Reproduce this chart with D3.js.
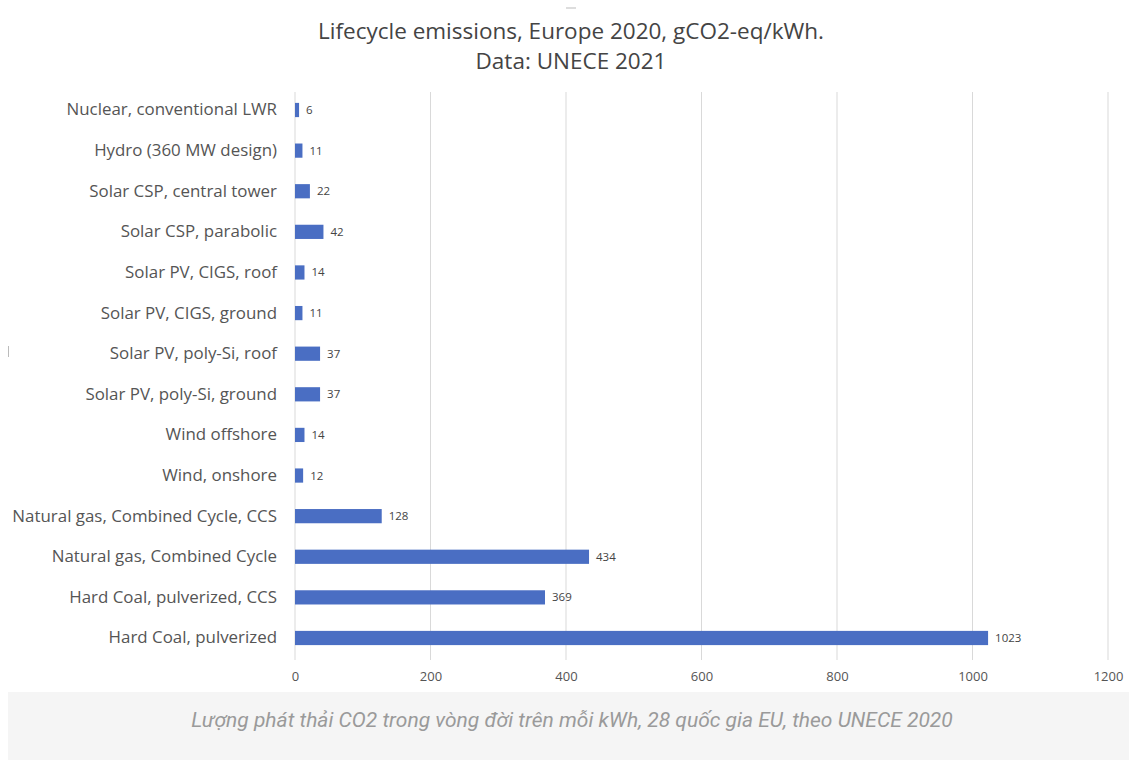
<!DOCTYPE html>
<html><head><meta charset="utf-8">
<script src="https://cdn.jsdelivr.net/npm/d3@7"></script>
<style>
body{margin:0;background:#fff;}
svg text{font-family:"Open Sans",sans-serif;}
</style></head>
<body><svg id="c" width="1129" height="760"></svg>
<script>
const categories = ["Nuclear, conventional LWR","Hydro (360 MW design)","Solar CSP, central tower","Solar CSP, parabolic","Solar PV, CIGS, roof","Solar PV, CIGS, ground","Solar PV, poly-Si, roof","Solar PV, poly-Si, ground","Wind offshore","Wind, onshore","Natural gas, Combined Cycle, CCS","Natural gas, Combined Cycle","Hard Coal, pulverized, CCS","Hard Coal, pulverized"];
const values = [6,11,22,42,14,11,37,37,14,12,128,434,369,1023];
const xTicks = [0,200,400,600,800,1000,1200];
const titleLines = ["Lifecycle emissions, Europe 2020, gCO2-eq/kWh.","Data: UNECE 2021"];
const caption = "Lượng phát thải CO2 trong vòng đời trên mỗi kWh, 28 quốc gia EU, theo UNECE 2020";

const svg = d3.select("#c");
const x = d3.scaleLinear().domain([0,1200]).range([295,1108]);
const y = d3.scaleBand().domain(categories).range([89.7,658.3]).paddingInner(0.65).paddingOuter(0.325);

// small scan artifacts
svg.append("line").attr("x1",566).attr("x2",576).attr("y1",8).attr("y2",8).attr("stroke","#bbb").attr("stroke-width",1);
svg.append("line").attr("x1",8.5).attr("x2",8.5).attr("y1",346).attr("y2",357).attr("stroke","#bbb").attr("stroke-width",1);

// caption background
svg.append("rect").attr("x",8).attr("y",692).attr("width",1121).attr("height",68).attr("fill","#f5f5f5");
svg.append("text").attr("x",572).attr("y",727).attr("text-anchor","middle")
  .style("font-family","Roboto, sans-serif")
  .attr("font-size",21).attr("font-style","italic").attr("fill","#9a9a9a").text(caption);

// title
svg.selectAll(".title").data(titleLines).join("text").attr("class","title")
  .attr("x",571).attr("y",(d,i)=>39+i*30).attr("text-anchor","middle")
  .attr("font-size",22.5).attr("fill","#444").text(d=>d);

// grid
svg.append("g").selectAll("line").data(xTicks).join("line")
  .attr("x1",d=>x(d)).attr("x2",d=>x(d)).attr("y1",92).attr("y2",660)
  .attr("stroke","#d9d9d9").attr("stroke-width",1);

// x axis labels
const ax = svg.append("g").attr("transform","translate(0,660)")
  .call(d3.axisBottom(x).tickValues(xTicks).tickFormat(d3.format("d")).tickSize(0).tickPadding(12));
ax.select(".domain").remove();
ax.selectAll("text").attr("font-size",13).attr("fill","#555").attr("font-family","Open Sans");

// y labels
const ay = svg.append("g").attr("transform","translate(277,0)")
  .call(d3.axisLeft(y).tickSize(0).tickPadding(0));
ay.select(".domain").remove();
ay.selectAll("text").attr("font-size",16.9).attr("fill","#555").attr("font-family","Open Sans");

// bars
svg.append("g").selectAll("rect").data(values).join("rect")
  .attr("x",x(0)).attr("y",(d,i)=>y(categories[i]))
  .attr("width",d=>x(d)-x(0)).attr("height",y.bandwidth()).attr("fill","#4a6ec3");

svg.append("g").selectAll("text").data(values).join("text")
  .attr("x",d=>x(d)+7).attr("y",(d,i)=>y(categories[i])+y.bandwidth()/2)
  .attr("dy","0.35em").attr("font-size",11.5).attr("fill","#444").text(d=>d);
</script></body></html>
